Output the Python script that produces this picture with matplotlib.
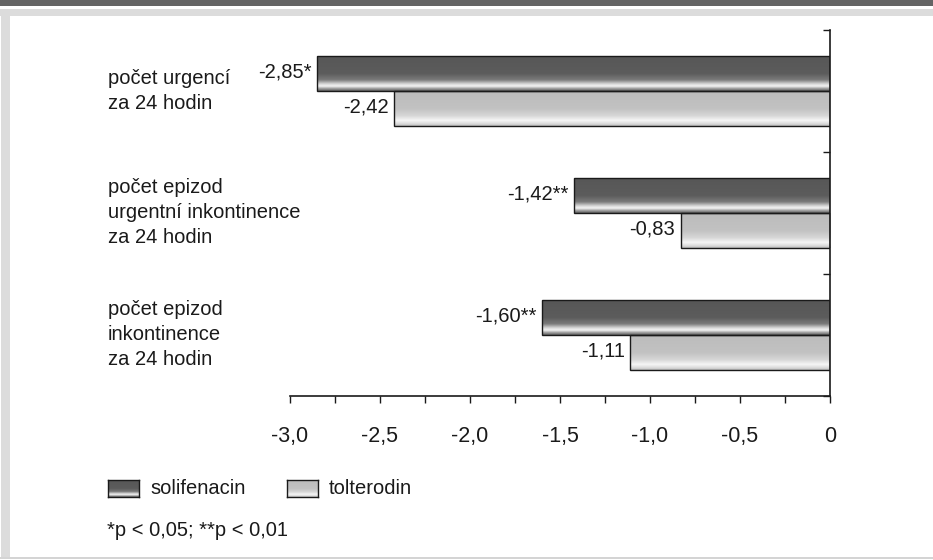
import matplotlib
matplotlib.use("Agg")
import matplotlib.pyplot as plt
import numpy as np
from matplotlib import font_manager
from matplotlib.colors import LinearSegmentedColormap
from matplotlib.patches import Rectangle
from matplotlib.transforms import blended_transform_factory

# data
categories = ["počet urgencí\nza 24 hodin",
              "počet epizod\nurgentní inkontinence\nza 24 hodin",
              "počet epizod\ninkontinence\nza 24 hodin"]
series_names = ["solifenacin", "tolterodin"]
solifenacin = [-2.85, -1.42, -1.60]
tolterodin = [-2.42, -0.83, -1.11]
solifenacin_labels = ["-2,85*", "-1,42**", "-1,60**"]
tolterodin_labels = ["-2,42", "-0,83", "-1,11"]
xticks = [-3.0, -2.5, -2.0, -1.5, -1.0, -0.5, 0.0]
xtick_labels = ["-3,0", "-2,5", "-2,0", "-1,5", "-1,0", "-0,5", "0"]
footnote = "*p < 0,05; **p < 0,01"

# font: narrow if available, otherwise regular Liberation Sans
try:
    font_manager.findfont("Liberation Sans Narrow", fallback_to_default=False)
    FONT, FS, FS_TICK = "Liberation Sans Narrow", 17.5, 19
except ValueError:
    FONT, FS, FS_TICK = "Liberation Sans", 14.5, 15.5
plt.rcParams["font.family"] = [FONT, "DejaVu Sans"]

dark_cmap = LinearSegmentedColormap.from_list("dark", [
    (0.0, "#575757"), (0.5, "#5c5c5c"), (0.68, "#7a7a7a"),
    (0.8, "#d8d8d8"), (0.86, "#f4f4f4"), (0.93, "#a0a0a0"), (1.0, "#5e5e5e")])
light_cmap = LinearSegmentedColormap.from_list("light", [
    (0.0, "#bcbcbc"), (0.5, "#c2c2c2"), (0.7, "#d6d6d6"),
    (0.84, "#f6f6f6"), (0.93, "#dcdcdc"), (1.0, "#bdbdbd")])
grad = np.linspace(0, 1, 256).reshape(-1, 1)

W, H = 933, 560
fig = plt.figure(figsize=(W / 100, H / 100), dpi=100)
fig.patch.set_facecolor("white")

# page decoration
def px_rect(x0, y0, x1, y1, color):
    fig.patches.append(Rectangle((x0 / W, 1 - y1 / H), (x1 - x0) / W, (y1 - y0) / H,
                                 transform=fig.transFigure, color=color, zorder=0, lw=0))

px_rect(0, 0, W, 6, "#646464")
px_rect(0, 9, W, 16, "#dcdcdc")
px_rect(1, 9, 10, 558, "#dcdcdc")
px_rect(0, 557, W, 559, "#d4d4d4")

ax = fig.add_axes([290 / W, 1 - 395.5 / H, 540 / W, 365.5 / H])

y = np.arange(len(categories))
bh = 0.287
bars_s = ax.barh(y - bh / 2, solifenacin, height=bh, color="none",
                 edgecolor="#1a1a1a", lw=1.0, zorder=3)
bars_t = ax.barh(y + bh / 2, tolterodin, height=bh, color="none",
                 edgecolor="#1a1a1a", lw=1.0, zorder=3)

for bars, cmap in ((bars_s, dark_cmap), (bars_t, light_cmap)):
    for r in bars:
        x0, x1 = r.get_x(), r.get_x() + r.get_width()
        y0, y1 = r.get_y(), r.get_y() + r.get_height()
        ax.imshow(grad, cmap=cmap, aspect="auto", extent=(min(x0, x1), max(x0, x1), y1, y0),
                  origin="upper", zorder=2, interpolation="bilinear")

for bars, labels in ((bars_s, solifenacin_labels), (bars_t, tolterodin_labels)):
    for r, lab in zip(bars, labels):
        ax.annotate(lab, (r.get_x() + r.get_width(), r.get_y() + r.get_height() / 2),
                    xytext=(-4, 1), textcoords="offset points", ha="right", va="center",
                    fontsize=FS, color="#1a1a1a")

ax.set_xlim(-3.0, 0.0)
ax.set_ylim(len(categories) - 0.5, -0.5)
ax.set_xticks(xticks)
ax.set_xticklabels(xtick_labels, fontsize=FS_TICK, color="#1a1a1a")
ax.set_xticks(np.arange(-2.75, 0, 0.5), minor=True)
ax.tick_params(axis="x", which="both", direction="out", length=5, width=1.0,
               color="#1a1a1a", pad=17)
ax.set_yticks(np.arange(-0.5, len(categories), 1.0))
ax.yaxis.tick_right()
ax.tick_params(axis="y", direction="in", length=5, width=1.0, color="#1a1a1a",
               labelright=False)
for s in ("top", "left"):
    ax.spines[s].set_visible(False)
for s in ("bottom", "right"):
    ax.spines[s].set_color("#1a1a1a")
    ax.spines[s].set_linewidth(1.2)
ax.patch.set_alpha(0)

trans = blended_transform_factory(fig.transFigure, ax.transData)
for yi, cat in zip(y, categories):
    ax.text(108 / W, yi, cat, transform=trans, ha="left", va="center",
            fontsize=FS, color="#1a1a1a", linespacing=1.4)

# legend
legend_x = [108, 287]
for lx, name, cmap in zip(legend_x, series_names, (dark_cmap, light_cmap)):
    lax = fig.add_axes([lx / W, 1 - 497 / H, 31 / W, 17 / H])
    lax.imshow(grad, cmap=cmap, aspect="auto", interpolation="bilinear")
    lax.set_xticks([])
    lax.set_yticks([])
    for sp in lax.spines.values():
        sp.set_color("#1a1a1a")
        sp.set_linewidth(1.0)
    fig.text((lx + 42) / W, 1 - 488 / H, name, ha="left", va="center",
             fontsize=FS, color="#1a1a1a")

fig.text(107 / W, 1 - 531 / H, footnote, ha="left", va="center",
         fontsize=FS, color="#1a1a1a")

fig.savefig("out.png", dpi=100)
